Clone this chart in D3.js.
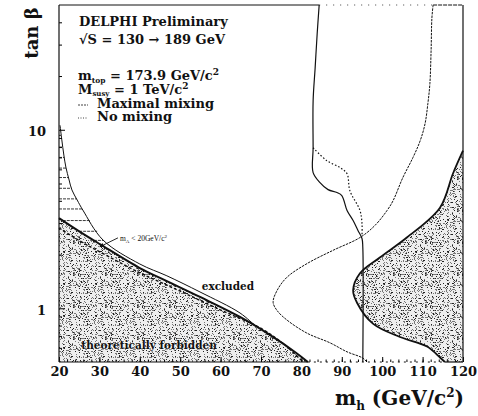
<!DOCTYPE html>
<html>
<head>
<meta charset="utf-8">
<script src="https://cdn.jsdelivr.net/npm/d3@7"></script>
<style>
  body { margin: 0; background: #fff; }
  svg text { font-family: "DejaVu Serif", "Liberation Serif", serif; font-weight: bold; fill: #111; }
</style>
</head>
<body>
<svg id="chart"></svg>
<script>
// axes
var xTicks = [20, 30, 40, 50, 60, 70, 80, 90, 100, 110, 120];
var yTicks = [1, 10];
var yMinorTicks = [0.6, 0.7, 0.8, 0.9, 2, 3, 4, 5, 6, 7, 8, 9, 20, 30, 40];

// maximal mixing, theoretically forbidden (thick, left)
var maxTheoryLowMh = [20, 25.2, 30.1, 40, 46.7, 54.9, 64.8, 72.2, 78.4, 81.6];
var maxTheoryLowTb = [3.2, 2.68, 2.29, 1.68, 1.42, 1.157, 0.894, 0.709, 0.569, 0.5];

// no mixing, theoretically forbidden (dashed, left)
var noTheoryLowMh = [20, 25.2, 30.1, 40, 49.9, 59.9, 69.8, 75.9, 80.4];
var noTheoryLowTb = [2.82, 2.38, 2.07, 1.58, 1.25, 0.98, 0.776, 0.623, 0.5];

// mA < 20 GeV/c2 exclusion (thin, left)
var mALowMh = [20.25, 20.7, 21.2, 21.7, 22.5, 23.2, 24.5, 25.9, 30.9, 40, 46.7, 54.9, 64.8, 68.5];
var mALowTb = [10.6, 8.77, 7.22, 6.18, 5.23, 4.60, 4.04, 3.55, 2.41, 1.77, 1.52, 1.234, 0.941, 0.80];

// hatch levels inside the mA region
var hatchTb = [9.3, 8.0, 7.0, 6.1, 5.4, 4.7, 4.1, 3.6, 3.1, 2.7, 2.4];

// maximal mixing, experimental exclusion (thin solid)
var maxExclMh = [84.4, 83.9, 83.4, 82.9, 82.9, 82.9, 84.6, 86.6, 88.8, 90.0, 91.3, 92.8, 94.0, 95.0, 95.2, 95.2];
var maxExclTb = [50, 34.4, 22.2, 14.5, 7.93, 5.75, 5.06, 4.62, 4.45, 4.28, 3.53, 3.10, 2.73, 2.46, 2.19, 0.5];

// no mixing, experimental exclusion (dotted)
var noExclMh = [82.9, 86.3, 89.6, 91.3, 92.0, 94.5, 95.0, 95.0];
var noExclTb = [7.93, 6.71, 6.13, 5.67, 4.56, 3.53, 2.98, 2.56];

// no mixing, theoretical upper bound (dotted C curve)
var noTheoryHighMh = [112.6, 112.3, 112.1, 111.8, 111.3, 110.6, 109.4, 107.6, 105.1, 102.7, 101.2, 98.2, 94.5, 87.8, 81.4, 76.4, 74.0, 73.0, 74.0, 76.4, 81.4, 87.1, 91.3, 95.2, 96.2];
var noTheoryHighTb = [50, 42.2, 27.6, 18.1, 14.0, 10.8, 8.68, 6.98, 5.39, 4.01, 3.53, 2.91, 2.49, 2.11, 1.78, 1.49, 1.26, 1.08, 0.97, 0.86, 0.725, 0.64, 0.57, 0.526, 0.5];

// maximal mixing, theoretical upper bound (thick, right, shaded)
var maxTheoryHighMh = [120, 117.5, 114.3, 106.1, 99.5, 94.5, 92.8, 93.8, 97.7, 104.4, 111.1, 114.3, 115.5];
var maxTheoryHighTb = [7.63, 5.67, 3.66, 2.49, 1.93, 1.57, 1.26, 1.07, 0.82, 0.69, 0.61, 0.53, 0.5];

var margin = {top: 5, right: 15, bottom: 54, left: 59},
    width = 478 - margin.left - margin.right,
    height = 416 - margin.top - margin.bottom;

var svg = d3.select("svg#chart")
    .attr("width", 478)
    .attr("height", 416);

var defs = svg.append("defs");

// speckled grey texture, like the scanned stipple (fixed integer hash, no randomness)
var tile = 32;
var pattern = defs.append("pattern")
    .attr("id", "stipple")
    .attr("width", tile)
    .attr("height", tile)
    .attr("patternUnits", "userSpaceOnUse");
pattern.append("rect")
    .attr("width", tile)
    .attr("height", tile)
    .attr("fill", "#eeeeee");
var speckles = [];
for (var i = 0; i < tile; i++) {
    for (var j = 0; j < tile; j++) {
        var h = (Math.imul(i, 374761393) + Math.imul(j, 668265263)) | 0;
        h = Math.imul(h ^ (h >>> 13), 1274126177);
        h = ((h ^ (h >>> 16)) >>> 0) % 100;
        if (h < 24) speckles.push([i, j, h < 8 ? "#222" : "#777"]);
    }
}
pattern.selectAll("rect.dot")
    .data(speckles)
    .enter()
    .append("rect")
        .attr("class", "dot")
        .attr("x", function(d) { return d[0]; })
        .attr("y", function(d) { return d[1]; })
        .attr("width", 1)
        .attr("height", 1)
        .attr("fill", function(d) { return d[2]; });

defs.append("marker")
    .attr("id", "arrow")
    .attr("viewBox", "0 0 10 10")
    .attr("refX", 9)
    .attr("refY", 5)
    .attr("markerWidth", 5)
    .attr("markerHeight", 5)
    .attr("orient", "auto")
    .append("path")
        .attr("d", "M0,0L10,5L0,10Z")
        .attr("fill", "#111");

var g = svg.append("g")
    .attr("transform", "translate(" + [margin.left, margin.top] + ")");

var x = d3.scaleLinear()
    .domain([20, 120])
    .range([0, width]);

var y = d3.scaleLog()
    .domain([0.5, 50])
    .range([height, 0]);

function pts(mh, tb) {
    return mh.map(function(m, i) { return [m, tb[i]]; });
}

var line = d3.line()
    .x(function(d) { return x(d[0]); })
    .y(function(d) { return y(d[1]); })
    .curve(d3.curveCatmullRom.alpha(0.5));

// mh on a curve at a given tanb (tanb decreasing along the curve)
function mhAt(mh, tb, t) {
    if (t >= tb[0]) return mh[0];
    for (var i = 0; i < tb.length - 1; i++) {
        if (t <= tb[i] && t >= tb[i + 1]) {
            var f = (Math.log(t) - Math.log(tb[i])) / (Math.log(tb[i + 1]) - Math.log(tb[i]));
            return mh[i] + f * (mh[i + 1] - mh[i]);
        }
    }
    return mh[mh.length - 1];
}

// shaded regions
g.append("path")
    .attr("d", line(pts(maxTheoryLowMh, maxTheoryLowTb)) + "L" + [x(20), y(0.5)] + "Z")
    .attr("fill", "url(#stipple)")
    .attr("stroke", "none");

g.append("path")
    .attr("d", line(pts(maxTheoryHighMh, maxTheoryHighTb)) + "L" + [x(120), y(0.5)] + "Z")
    .attr("fill", "url(#stipple)")
    .attr("stroke", "none");

// hatching of the mA < 20 region
g.selectAll("line.hatch")
    .data(hatchTb)
    .enter()
    .append("line")
        .attr("class", "hatch")
        .attr("x1", function(t) {
            return x(t >= maxTheoryLowTb[0] ? 20 : mhAt(maxTheoryLowMh, maxTheoryLowTb, t));
        })
        .attr("x2", function(t) { return x(mhAt(mALowMh, mALowTb, t)); })
        .attr("y1", function(t) { return y(t); })
        .attr("y2", function(t) { return y(t); })
        .attr("stroke", "#222")
        .attr("stroke-width", 0.9)
        .attr("stroke-dasharray", "3,1");

// curves
var curves = [
    {mh: maxTheoryLowMh, tb: maxTheoryLowTb, w: 2, dash: null},
    {mh: noTheoryLowMh, tb: noTheoryLowTb, w: 1.4, dash: "3,2"},
    {mh: mALowMh, tb: mALowTb, w: 1, dash: null},
    {mh: maxExclMh, tb: maxExclTb, w: 1.2, dash: null},
    {mh: noExclMh, tb: noExclTb, w: 1.2, dash: "1.5,2"},
    {mh: noTheoryHighMh, tb: noTheoryHighTb, w: 1, dash: "2.5,1"},
    {mh: maxTheoryHighMh, tb: maxTheoryHighTb, w: 1.8, dash: null}
];

g.selectAll("path.curve")
    .data(curves)
    .enter()
    .append("path")
        .attr("class", "curve")
        .attr("d", function(d) { return line(pts(d.mh, d.tb)); })
        .attr("fill", "none")
        .attr("stroke", "#111")
        .attr("stroke-width", function(d) { return d.w; })
        .attr("stroke-dasharray", function(d) { return d.dash; });

// axes
var xAxis = g.append("g")
    .attr("transform", "translate(0," + height + ")")
    .call(d3.axisBottom(x).tickValues(xTicks).tickSize(-5).tickPadding(5).tickFormat(d3.format("d")));
xAxis.select(".domain").remove();
xAxis.selectAll("text").style("font-size", "13px");

g.append("g")
    .attr("transform", "translate(0," + height + ")")
    .call(d3.axisBottom(x).tickValues(d3.range(22, 120, 2)).tickSize(-2.5).tickFormat(""))
    .select(".domain").remove();

var yAxis = g.append("g")
    .call(d3.axisLeft(y).tickValues(yTicks).tickSize(-6).tickPadding(13).tickFormat(d3.format("d")));
yAxis.select(".domain").remove();
yAxis.selectAll("text")
    .style("font-size", "13px")
    .attr("dy", "0.45em");

g.append("g")
    .call(d3.axisLeft(y).tickValues(yMinorTicks).tickSize(-3).tickFormat(""))
    .select(".domain").remove();

// frame, dotted where the scan shows the region edge only
var frame = g.append("g")
    .attr("fill", "none")
    .attr("stroke", "#111");

function seg(x1, y1, x2, y2, w, dash) {
    frame.append("line")
        .attr("x1", x(x1)).attr("y1", y(y1))
        .attr("x2", x(x2)).attr("y2", y(y2))
        .attr("stroke-width", w)
        .attr("stroke-dasharray", dash);
}
seg(20, 0.5, 20, 50, 1.2, null);
seg(120, 0.5, 120, 50, 1.2, null);
seg(20, 50, maxExclMh[0], 50, 1, null);
seg(maxExclMh[0], 50, noTheoryHighMh[0], 50, 0.8, "1,6");
seg(noTheoryHighMh[0], 50, 120, 50, 1, "4,1");
seg(20, 0.5, maxTheoryLowMh[maxTheoryLowMh.length - 1], 0.5, 1.2, null);
seg(maxTheoryLowMh[maxTheoryLowMh.length - 1], 0.5, maxTheoryHighMh[maxTheoryHighMh.length - 1], 0.5, 1, "2,4");
seg(maxTheoryHighMh[maxTheoryHighMh.length - 1], 0.5, 120, 0.5, 1.2, null);

// annotations
g.append("text")
    .attr("x", x(61.8))
    .attr("y", y(1.27))
    .attr("text-anchor", "middle")
    .style("font-size", "10.5px")
    .text("excluded");

g.append("text")
    .attr("x", x(42.3))
    .attr("y", y(0.59))
    .attr("text-anchor", "middle")
    .style("font-size", "10.5px")
    .style("paint-order", "stroke")
    .style("stroke", "#fff")
    .style("stroke-width", "1.2px")
    .style("stroke-opacity", 0.7)
    .text("theoretically forbidden");

var ma = g.append("text")
    .attr("x", x(35.1))
    .attr("y", y(2.38))
    .style("font-size", "7.5px")
    .style("font-weight", "normal")
    .style("font-family", "Liberation Serif, serif");
ma.append("tspan").text("m");
ma.append("tspan").attr("dy", 1.5).style("font-size", "5px").text("A");
ma.append("tspan").attr("dy", -1.5).text(" < 20GeV/c");
ma.append("tspan").attr("dy", -3).style("font-size", "5px").text("2");

g.append("line")
    .attr("x1", x(34.6)).attr("y1", y(2.48))
    .attr("x2", x(30.1)).attr("y2", y(2.21))
    .attr("stroke", "#111")
    .attr("stroke-width", 0.9)
    .attr("marker-end", "url(#arrow)");

// legend block
var leg = g.append("g")
    .attr("transform", "translate(20,0)");

leg.append("text").attr("x", 0).attr("y", 21).style("font-size", "13px").text("DELPHI Preliminary");
leg.append("text").attr("x", 0).attr("y", 39).style("font-size", "13px").text("\u221AS = 130 \u2192 189 GeV");

var mtop = leg.append("text").attr("x", -1).attr("y", 75).style("font-size", "13px");
mtop.append("tspan").text("m");
mtop.append("tspan").attr("dy", 2.5).style("font-size", "7.5px").text("top");
mtop.append("tspan").attr("dy", -2.5).text(" = 173.9 GeV/c");
mtop.append("tspan").attr("dy", -5).style("font-size", "9px").text("2");

var msusy = leg.append("text").attr("x", -1).attr("y", 89).style("font-size", "13px");
msusy.append("tspan").text("M");
msusy.append("tspan").attr("dy", 2).style("font-size", "7px").text("susy");
msusy.append("tspan").attr("dy", -2).text(" = 1 TeV/c");
msusy.append("tspan").attr("dy", -5).style("font-size", "9px").text("2");

leg.append("line")
    .attr("x1", -1).attr("x2", 9).attr("y1", 100).attr("y2", 100)
    .attr("stroke", "#111").attr("stroke-width", 0.8).attr("stroke-dasharray", "2,1");
leg.append("text").attr("x", 18).attr("y", 103).style("font-size", "13px").text("Maximal mixing");

leg.append("line")
    .attr("x1", -1).attr("x2", 9).attr("y1", 113).attr("y2", 113)
    .attr("stroke", "#111").attr("stroke-width", 0.8).attr("stroke-dasharray", "1,1.5");
leg.append("text").attr("x", 18).attr("y", 116).style("font-size", "13px").text("No mixing");

// axis titles
svg.append("text")
    .attr("transform", "translate(38,33) rotate(-90)")
    .attr("text-anchor", "middle")
    .style("font-size", "18px")
    .text("tan \u03B2");

var xt = svg.append("text")
    .attr("x", 335)
    .attr("y", 405)
    .style("font-size", "20px");
xt.append("tspan").text("m");
xt.append("tspan").attr("dy", 5).style("font-size", "12px").text("h");
xt.append("tspan").attr("dy", -5).text(" (GeV/c");
xt.append("tspan").attr("dy", -8).style("font-size", "12px").text("2");
xt.append("tspan").attr("dy", 8).text(")");
</script>
</body>
</html>
